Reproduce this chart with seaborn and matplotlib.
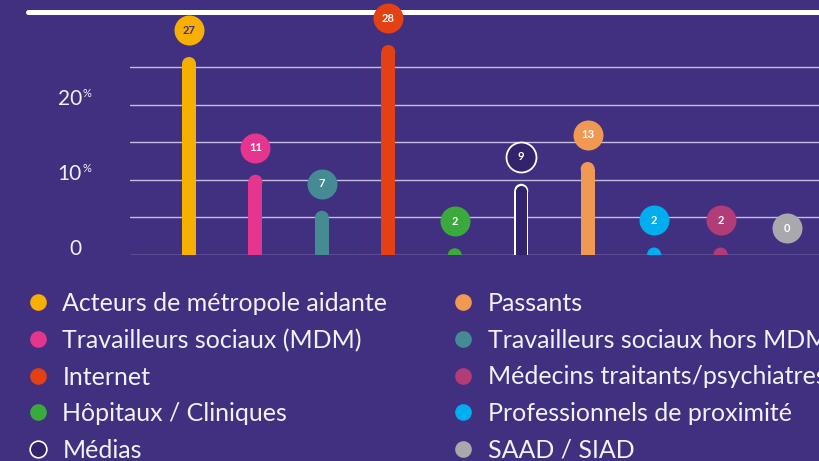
import matplotlib
matplotlib.use("Agg")
import matplotlib.pyplot as plt
import seaborn as sns
from matplotlib.lines import Line2D

# ---------------- data ----------------
categories = [
    "Acteurs de métropole aidante",
    "Travailleurs sociaux (MDM)",
    "Travailleurs sociaux hors MDM",
    "Internet",
    "Hôpitaux / Cliniques",
    "Médias",
    "Passants",
    "Professionnels de proximité",
    "Médecins traitants/psychiatres",
    "SAAD / SIAD",
]
label_values = [27, 11, 7, 28, 2, 9, 13, 2, 2, 0]          # numbers shown in bubbles
bar_heights = [26.4, 10.7, 5.9, 28.0, 0.9, 9.5, 12.4, 1.0, 1.0, 0.0]  # drawn height (%)
colors = ["#f7b000", "#e5358e", "#448b93", "#e34014", "#3aaa3c",
          "#33236d", "#f19852", "#00adee", "#b13c78", "#a9a9ad"]
outlined = [False, False, False, False, False, True, False, False, False, False]
legend_col1 = ["Acteurs de métropole aidante", "Travailleurs sociaux (MDM)",
               "Internet", "Hôpitaux / Cliniques", "Médias"]
legend_col2 = ["Passants", "Travailleurs sociaux hors MDM",
               "Médecins traitants/psychiatres", "Professionnels de proximité",
               "SAAD / SIAD"]
ytick_values = [0, 10, 20]
ytick_labels = ["0", "10", "20"]
grid_values = [0, 5, 10, 15, 20, 25]

# ---------------- style ----------------
BG = "#412f80"
TXT = "#f3f1fa"
GRID = "#c4bfe0"
sns.set_style("white")
plt.rcParams["font.family"] = ["Lato", "DejaVu Sans"]

W, H = 820, 461
fig = plt.figure(figsize=(W / 100, H / 100), dpi=100, facecolor=BG)
ax_left, ax_right, ax_bottom, ax_top = 130, 846, 255, 0
ax = fig.add_axes([ax_left / W, (H - ax_bottom) / H,
                   (ax_right - ax_left) / W, (ax_bottom - ax_top) / H])
ax.set_facecolor("none")

px_per_x = 66.44
px_per_y = 7.5
xmin = -59 / px_per_x
xmax = 9 + 59 / px_per_x
ymax = (ax_bottom - ax_top) / px_per_y

bar_px = 14.0
inner_px = 11.0
bar_w = bar_px / px_per_x
cap_r = (bar_px / 2) / px_per_y
bodies = [max(h - cap_r, 0) if h > 0 else 0 for h in bar_heights]

# outer bars (outline colour for outlined bars)
outer_colors = ["white" if o else c for c, o in zip(colors, outlined)]
sns.barplot(x=categories, y=bodies, hue=categories, palette=outer_colors,
            order=categories, hue_order=categories, legend=False,
            width=bar_w, saturation=1, linewidth=0, ax=ax, zorder=3)

xs = list(range(len(categories)))
cap_x = [x for x, h in zip(xs, bar_heights) if h > 0]
cap_y = [h - cap_r for h in bar_heights if h > 0]
cap_c = [c for c, h in zip(outer_colors, bar_heights) if h > 0]
ax.scatter(cap_x, cap_y, s=(bar_px * 0.72) ** 2, c=cap_c, linewidths=0,
           zorder=3, clip_on=True)

# inner fill for outlined bars
for x, b, h, c, o in zip(xs, bodies, bar_heights, colors, outlined):
    if o:
        ax.bar([x], [b], width=inner_px / px_per_x, color=c, linewidth=0, zorder=4)
        ax.scatter([x], [h - cap_r], s=(inner_px * 0.72) ** 2, c=[c],
                   linewidths=0, zorder=4)

# value bubbles
bubble_off = 27 / px_per_y
for x, h, v, c, o in zip(xs, bar_heights, label_values, colors, outlined):
    yb = h + bubble_off
    ax.scatter([x], [yb], s=(30 * 0.72) ** 2, c=[c],
               edgecolors="white" if o else c, linewidths=1.3 if o else 0,
               zorder=6, clip_on=False)
    tc = BG if c == "#f7b000" else "white"
    ax.text(x, yb, str(v), ha="center", va="center", fontsize=8,
            fontweight="bold", color=tc, zorder=7, clip_on=False)

ax.set_xlim(xmin, xmax)
ax.set_ylim(0, ymax)
ax.set_yticks(grid_values)
ax.grid(axis="y", color=GRID, linewidth=1.0, zorder=0)
ax.grid(axis="x", visible=False)
ax.set_axisbelow(True)
ax.tick_params(left=False, bottom=False, labelleft=False, labelbottom=False)
for s in ax.spines.values():
    s.set_visible(False)
ax.set_xlabel("")
ax.set_ylabel("")

# y labels with superscript %
yt = ax.get_yaxis_transform()
num_right = (82 - ax_left) / (ax_right - ax_left)
for v, lab in zip(ytick_values, ytick_labels):
    ax.annotate(lab, xy=(num_right, v), xycoords=yt, xytext=(0, 4.5),
                textcoords="offset points", ha="right", va="center",
                fontsize=15, color=TXT, annotation_clip=False)
    if v != 0:
        ax.annotate("%", xy=(num_right, v), xycoords=yt, xytext=(0.3, 8.5),
                    textcoords="offset points", ha="left", va="center",
                    fontsize=8, color=TXT, annotation_clip=False)

# top white rule
fig.add_artist(Line2D([28 / W, 1.0], [1 - 12.5 / H] * 2, transform=fig.transFigure,
                      color="white", linewidth=3.6, zorder=-1))

# legend (two columns)
def handle(name):
    i = categories.index(name)
    c = colors[i]
    return Line2D([], [], marker="o", linestyle="", markersize=12,
                  markerfacecolor=c, markeredgecolor="white" if outlined[i] else c,
                  markeredgewidth=1.2 if outlined[i] else 0)

FS = 18
for names, x0 in [(legend_col1, 38), (legend_col2, 463)]:
    hl = 1.0
    start = x0 - hl * FS * 100 / 72 / 2
    fig.legend([handle(n) for n in names], names, loc="upper left",
               bbox_to_anchor=(start / W, 1 - 292 / H), frameon=False,
               fontsize=FS, labelcolor=TXT, handlelength=hl,
               handletextpad=0.48, labelspacing=0.545, borderpad=0,
               borderaxespad=0)

fig.savefig("out.png", dpi=100, facecolor=BG)
